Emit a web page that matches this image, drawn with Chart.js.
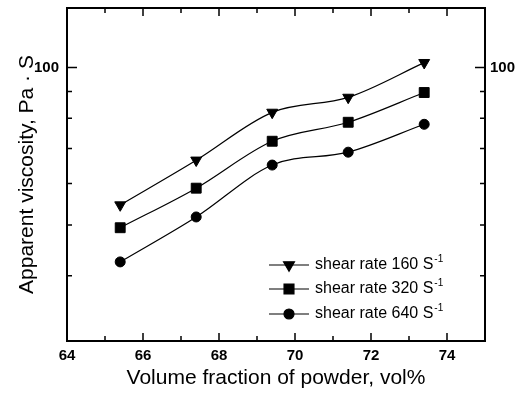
<!DOCTYPE html>
<html>
<head>
<meta charset="utf-8">
<script src="https://cdn.jsdelivr.net/npm/chart.js@4/dist/chart.umd.min.js"></script>
<style>
  html, body { margin: 0; padding: 0; background: #fff; }
  #wrap { width: 521px; height: 399px; }
</style>
</head>
<body>
<div id="wrap"><canvas id="viscChart" width="521" height="399"></canvas></div>
<script>
// data
const volumeFraction = [65.4, 67.4, 69.4, 71.4, 73.4];
const rate160 = [54.6, 66.5, 82.1, 87.7, 102.2];
const rate320 = [49.4, 58.8, 72.3, 78.6, 89.6];
const rate640 = [42.5, 51.8, 65.1, 68.9, 77.9];
const seriesLabels = ["shear rate 160 S", "shear rate 320 S", "shear rate 640 S"];
const xTicks = [64, 66, 68, 70, 72, 74];
const yTicks = [30, 40, 50, 60, 70, 80, 90, 100];

const FONT = "'Liberation Sans', Arial, sans-serif";

function pts(ys) {
  return volumeFraction.map((x, i) => ({ x: x, y: ys[i] }));
}

const markerStyles = [
  { pointStyle: "triangle", rotation: 180, radius: 6.3 },
  { pointStyle: "rect", rotation: 0, radius: 7 },
  { pointStyle: "circle", rotation: 0, radius: 5 },
];

// inward ticks, frame and the in-plot legend
const framePlugin = {
  id: "frame",
  afterDraw(chart) {
    const ctx = chart.ctx;
    const a = chart.chartArea;
    const xs = chart.scales.x;
    const ys = chart.scales.y;
    ctx.save();
    ctx.strokeStyle = "#000";
    ctx.lineWidth = 1.5;
    // x ticks (top and bottom)
    for (let v = 65; v <= 74; v++) {
      const px = xs.getPixelForValue(v);
      const len = v % 2 === 0 ? 8 : 5;
      ctx.beginPath();
      ctx.moveTo(px, a.bottom);
      ctx.lineTo(px, a.bottom - len);
      ctx.moveTo(px, a.top);
      ctx.lineTo(px, a.top + len);
      ctx.stroke();
    }
    // y ticks (left and right)
    yTicks.forEach(v => {
      const py = ys.getPixelForValue(v);
      const len = v === 100 ? 10 : 5;
      ctx.beginPath();
      ctx.moveTo(a.left, py);
      ctx.lineTo(a.left + len, py);
      ctx.moveTo(a.right, py);
      ctx.lineTo(a.right - len, py);
      ctx.stroke();
    });
    ctx.lineWidth = 2;
    ctx.strokeRect(a.left, a.top, a.right - a.left, a.bottom - a.top);

    // legend
    const lx = a.left + 222;
    const rows = [a.top + 257, a.top + 281, a.top + 306];
    chart.data.datasets.forEach((ds, i) => {
      const y = rows[i];
      ctx.strokeStyle = "#000";
      ctx.fillStyle = "#000";
      ctx.lineWidth = 1.2;
      ctx.beginPath();
      ctx.moveTo(lx - 20, y);
      ctx.lineTo(lx + 20, y);
      ctx.stroke();
      Chart.helpers.drawPoint(ctx, {
        pointStyle: markerStyles[i].pointStyle,
        rotation: markerStyles[i].rotation,
        radius: markerStyles[i].radius,
        borderWidth: 1,
      }, lx, y);
      ctx.font = "16px " + FONT;
      ctx.textBaseline = "middle";
      ctx.textAlign = "left";
      ctx.fillText(ds.label, lx + 26, y);
      const w = ctx.measureText(ds.label).width;
      ctx.font = "10px " + FONT;
      ctx.fillText("-1", lx + 26 + w + 1, y - 6);
    });
    ctx.restore();
  },
};

const datasets = [rate160, rate320, rate640].map((ys, i) => ({
  label: seriesLabels[i],
  data: pts(ys),
  borderColor: "#000",
  backgroundColor: "#000",
  borderWidth: 1.2,
  cubicInterpolationMode: "monotone",
  pointStyle: markerStyles[i].pointStyle,
  rotation: markerStyles[i].rotation,
  pointRadius: markerStyles[i].radius,
  pointBorderWidth: 1,
  yAxisID: "y",
}));

function fixY(width) {
  return s => {
    s.width = width;
    s.paddingTop = 0;
    s.paddingBottom = 0;
  };
}

new Chart(document.getElementById("viscChart").getContext("2d"), {
  type: "line",
  data: { datasets: datasets },
  options: {
    responsive: false,
    animation: false,
    layout: { padding: { top: 8, left: 0, right: 0, bottom: 0 } },
    plugins: { legend: { display: false }, tooltip: { enabled: false } },
    scales: {
      x: {
        type: "linear",
        min: 64,
        max: 75,
        afterBuildTicks: s => { s.ticks = xTicks.map(v => ({ value: v })); },
        afterFit: s => { s.height = 58; s.paddingLeft = 0; s.paddingRight = 0; },
        grid: { display: false, drawTicks: false },
        border: { display: false },
        ticks: { color: "#000", padding: 6, font: { family: FONT, size: 15, weight: "bold" } },
        title: {
          display: true,
          text: "Volume fraction of powder, vol%",
          color: "#000",
          font: { family: FONT, size: 21 },
          padding: { top: 0, bottom: 8 },
        },
      },
      y: {
        type: "logarithmic",
        position: "left",
        min: 30,
        max: 130,
        afterBuildTicks: s => { s.ticks = yTicks.map(v => ({ value: v })); },
        afterFit: fixY(67),
        grid: { display: false, drawTicks: false },
        border: { display: false },
        ticks: {
          color: "#000",
          padding: 8,
          font: { family: FONT, size: 15, weight: "bold" },
          callback: v => (v === 100 ? "100" : ""),
        },
        title: {
          display: true,
          text: "Apparent viscosity, Pa · S",
          color: "#000",
          font: { family: FONT, size: 21 },
          padding: { top: 15, bottom: 0 },
        },
      },
      y2: {
        type: "logarithmic",
        position: "right",
        min: 30,
        max: 130,
        afterBuildTicks: s => { s.ticks = yTicks.map(v => ({ value: v })); },
        afterFit: fixY(36),
        grid: { display: false, drawTicks: false },
        border: { display: false },
        ticks: {
          color: "#000",
          padding: 5,
          font: { family: FONT, size: 15, weight: "bold" },
          callback: v => (v === 100 ? "100" : ""),
        },
      },
    },
  },
  plugins: [framePlugin],
});
</script>
</body>
</html>
